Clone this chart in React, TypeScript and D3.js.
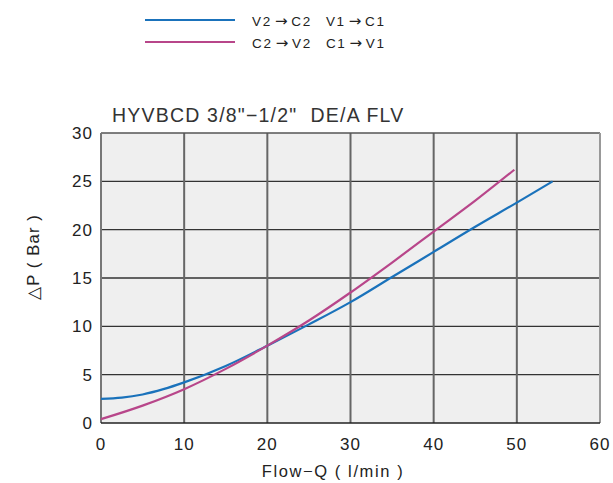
import React from "react";
import * as d3 from "d3";

const xTicks = [0, 10, 20, 30, 40, 50, 60];
const yTicks = [0, 5, 10, 15, 20, 25, 30];

const blueQ = [0, 2.5, 5, 7.5, 10, 15, 20, 25, 30, 35, 40, 45, 50, 54.3];
const blueP = [2.5, 2.62, 2.95, 3.5, 4.2, 5.9, 8.0, 10.2, 12.5, 15.1, 17.7, 20.3, 22.8, 25.0];

const magQ = [0, 5, 10, 15, 20, 25, 30, 35, 40, 45, 49.7];
const magP = [0.4, 1.8, 3.5, 5.6, 8.0, 10.6, 13.5, 16.6, 19.8, 23.0, 26.2];

const legendLabels = ["V2\u2192C2  V1\u2192C1", "C2\u2192V2  C1\u2192V1"];
const title = "HYVBCD 3/8\"\u22121/2\"  DE/A FLV";
const xLabel = "Flow\u2212Q ( l/min )";
const yLabel = "\u25B3P ( Bar )";

const BLUE = "#1a72bb";
const MAG = "#b8468a";
const FONT = "'Liberation Sans', Arial, sans-serif";

function LegendText({ label, x, y }: { label: string; x: number; y: number }) {
  const parts = label.split("\u2192");
  const out: React.ReactNode[] = [];
  parts.forEach((p, i) => {
    if (i > 0) {
      out.push(
        <tspan key={"a" + i} dx={3} fontFamily="'DejaVu Sans', sans-serif" fontSize={15}>
          {"\u2192"}
        </tspan>
      );
    }
    const segs = p.split("  ");
    segs.forEach((s, j) => {
      out.push(
        <tspan key={"t" + i + "_" + j} dx={i > 0 && j === 0 ? 2 : j > 0 ? 14 : 0}>
          {s}
        </tspan>
      );
    });
  });
  return (
    <text x={x} y={y} fontSize={13.5} letterSpacing={1.7} fill="#222" style={{ whiteSpace: "pre" }}>
      {out}
    </text>
  );
}

export default function App() {
  const x = d3.scaleLinear().domain([0, 60]).range([101, 600]);
  const y = d3.scaleLinear().domain([0, 30]).range([423, 133]);
  const line = d3
    .line<[number, number]>()
    .x((d) => x(d[0]))
    .y((d) => y(d[1]))
    .curve(d3.curveMonotoneX);
  const blue = blueQ.map((q, i) => [q, blueP[i]] as [number, number]);
  const mag = magQ.map((q, i) => [q, magP[i]] as [number, number]);
  const pre = { whiteSpace: "pre" } as React.CSSProperties;

  return (
    <svg
      width={613}
      height={483}
      style={{ position: "absolute", left: 0, top: 0, display: "block", background: "#fff" }}
      fontFamily={FONT}
    >
      {/* legend */}
      <line x1={145} x2={235} y1={20} y2={20} stroke={BLUE} strokeWidth={2} />
      <line x1={145} x2={235} y1={42} y2={42} stroke={MAG} strokeWidth={2} />
      <LegendText label={legendLabels[0]} x={252} y={26} />
      <LegendText label={legendLabels[1]} x={252} y={48} />

      {/* title */}
      <text x={112} y={122} fontSize={19.5} letterSpacing={1.2} fill="#333" style={pre}>{title}</text>

      {/* plot background */}
      <rect x={x(0)} y={y(30)} width={x(60) - x(0)} height={y(0) - y(30)} fill="#efefef" />

      {/* grid */}
      {yTicks.slice(1, -1).map((t) => (
        <line key={"h" + t} x1={x(0)} x2={x(60)} y1={y(t)} y2={y(t)} stroke="#333" strokeWidth={1.3} />
      ))}
      {xTicks.slice(1, -1).map((t) => (
        <line key={"v" + t} x1={x(t)} x2={x(t)} y1={y(0)} y2={y(30)} stroke="#666" strokeWidth={2} />
      ))}
      {/* frame */}
      <line x1={x(0)} x2={x(60)} y1={y(30)} y2={y(30)} stroke="#555" strokeWidth={1.3} />
      <line x1={x(60)} x2={x(60)} y1={y(0)} y2={y(30)} stroke="#999" strokeWidth={2} />
      <line x1={x(0)} x2={x(0)} y1={y(0)} y2={y(30)} stroke="#777" strokeWidth={2} />
      <line x1={x(0)} x2={x(60)} y1={y(0)} y2={y(0)} stroke="#222" strokeWidth={1.5} />

      {/* curves */}
      <path d={line(blue) || ""} fill="none" stroke={BLUE} strokeWidth={2.2} />
      <path d={line(mag) || ""} fill="none" stroke={MAG} strokeWidth={2.2} />

      {/* tick labels */}
      {xTicks.map((t) => (
        <text key={"xt" + t} x={x(t)} y={450} fontSize={17} letterSpacing={1} textAnchor="middle" fill="#222">{t}</text>
      ))}
      {yTicks.map((t) => (
        <text key={"yt" + t} x={93} y={y(t) + 6} fontSize={17} letterSpacing={1} textAnchor="end" fill="#222">{t}</text>
      ))}

      {/* axis labels */}
      <text x={333} y={477} fontSize={16.5} letterSpacing={1.6} textAnchor="middle" fill="#222" style={pre}>{xLabel}</text>
      <text
        transform={`translate(39,${257}) rotate(-90)`}
        fontSize={16.5}
        letterSpacing={1.2}
        textAnchor="middle"
        fill="#222"
        style={pre}
      >
        {yLabel}
      </text>
    </svg>
  );
}
